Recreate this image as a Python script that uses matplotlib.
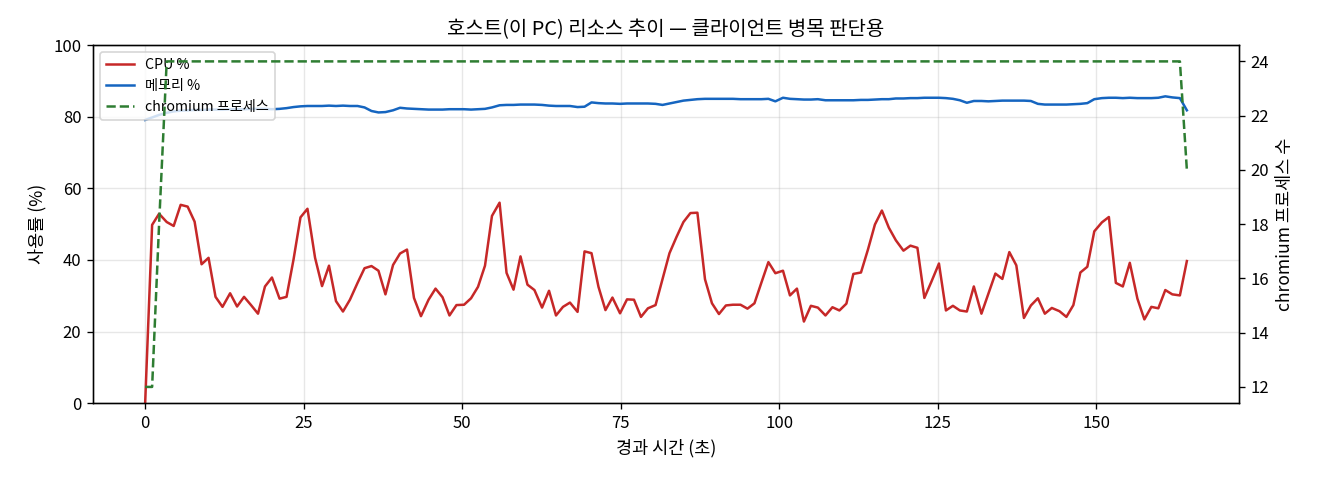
import matplotlib
matplotlib.use('Agg')
from matplotlib import pyplot as plt

plt.rcParams['font.family'] = ['Noto Sans CJK KR', 'DejaVu Sans']

# elapsed seconds of each sample
t = [0.0, 1.1, 2.2, 3.4, 4.5, 5.6, 6.7, 7.8, 8.9, 10.0, 11.1, 12.2, 13.4, 14.5, 15.6,
     16.7, 17.8, 18.9, 20.0, 21.2, 22.3, 23.4, 24.5, 25.6, 26.8, 27.9, 29.0, 30.1, 31.2,
     32.3, 33.5, 34.6, 35.7, 36.8, 37.9, 39.1, 40.2, 41.3,
     42.4, 43.5, 44.7, 45.8, 46.9, 48.0, 49.1, 50.3, 51.4, 52.5, 53.6, 54.7, 55.9, 57.0,
     58.1, 59.2, 60.3, 61.4, 62.6, 63.7, 64.8, 65.9, 67.0, 68.2, 69.3, 70.4, 71.5, 72.6,
     73.7, 74.9, 76.0, 77.1, 78.2, 79.3, 80.5, 81.6, 82.7,
     83.8, 84.9, 86.0, 87.1, 88.3, 89.4, 90.5, 91.6, 92.7, 93.9, 95.0, 96.1, 97.2, 98.3,
     99.4, 100.6, 101.7, 102.8, 103.9, 105.0, 106.1, 107.3, 108.4, 109.5, 110.6, 111.7,
     112.9, 114.0, 115.1, 116.2, 117.3, 118.4, 119.6, 120.7, 121.8, 122.9, 124.0, 125.2,
     126.3, 127.4, 128.5, 129.6, 130.7, 131.9, 133.0, 134.1, 135.2, 136.3, 137.4, 138.6,
     139.7, 140.8, 141.9, 143.0, 144.2, 145.3, 146.4, 147.5, 148.6, 149.7, 150.9, 152.0,
     153.1, 154.2, 155.3, 156.5, 157.6, 158.7, 159.8, 160.9, 162.0, 163.2, 164.3]

cpu = [0.0, 49.8, 52.9, 50.6, 49.5, 55.4, 54.9, 50.7, 38.8, 40.6, 29.7, 26.9, 30.7, 27.0,
       29.7, 27.4, 25.0, 32.6, 35.1, 29.2, 29.7, 40.1, 51.9, 54.3, 40.6, 32.7, 38.4, 28.5,
       25.6, 28.9, 33.6, 37.7, 38.3, 37.0, 30.4, 38.6, 41.8, 42.9,
       29.4, 24.3, 28.9, 32.0, 29.6, 24.5, 27.4, 27.5, 29.3, 32.5, 38.4, 52.3, 56.0, 36.4,
       31.7, 41.0, 33.1, 31.6, 26.7, 31.4, 24.5, 26.9, 28.1, 25.5, 42.4, 41.9, 32.5, 26.0,
       29.5, 25.1, 29.0, 28.9, 24.1, 26.5, 27.4, 34.7, 41.9,
       46.4, 50.6, 53.1, 53.2, 34.6, 27.9, 24.9, 27.3, 27.5, 27.5, 26.4, 27.9, 33.7, 39.4,
       36.3, 37.0, 30.1, 32.0, 22.8, 27.2, 26.7, 24.5, 26.8, 25.9, 27.8, 36.1, 36.5, 42.9,
       49.9, 53.8, 49.0, 45.5, 42.6, 44.0, 43.4, 29.4, 33.9, 39.0,
       25.9, 27.2, 25.9, 25.6, 32.6, 25.0, 30.6, 36.2, 34.7, 42.2, 38.5, 23.8, 27.3, 29.3,
       25.0, 26.6, 25.7, 24.1, 27.4, 36.5, 38.1, 48.0, 50.5, 52.0, 33.6, 32.6, 39.2, 29.2,
       23.4, 26.9, 26.5, 31.6, 30.4, 30.1, 39.7]

mem = [79.1, 79.8, 80.5, 81.1, 81.5, 81.7, 81.8, 81.9, 81.9, 82.0, 82.0, 82.0, 82.1, 82.1,
       82.1, 82.2, 82.2, 82.2, 82.1, 82.2, 82.4, 82.7, 82.9, 83.0, 83.0, 83.0, 83.1, 83.0,
       83.1, 83.0, 83.0, 82.6, 81.6, 81.2, 81.3, 81.8, 82.5, 82.3,
       82.2, 82.1, 82.0, 82.0, 82.0, 82.1, 82.1, 82.1, 82.0, 82.1, 82.2, 82.6, 83.2, 83.3,
       83.3, 83.4, 83.4, 83.4, 83.3, 83.1, 83.0, 83.0, 83.0, 82.7, 82.8, 84.0, 83.8, 83.7,
       83.7, 83.6, 83.7, 83.7, 83.7, 83.7, 83.6, 83.3, 83.7,
       84.1, 84.5, 84.7, 84.9, 85.0, 85.0, 85.0, 85.0, 85.0, 84.9, 84.9, 84.9, 84.9, 85.0,
       84.3, 85.3, 85.0, 84.9, 84.8, 84.8, 84.9, 84.6, 84.6, 84.6, 84.6, 84.6, 84.7, 84.7,
       84.8, 84.9, 84.9, 85.1, 85.1, 85.2, 85.2, 85.3, 85.3, 85.3,
       85.2, 85.0, 84.6, 83.9, 84.4, 84.4, 84.3, 84.4, 84.5, 84.5, 84.5, 84.5, 84.4, 83.6,
       83.4, 83.4, 83.4, 83.4, 83.5, 83.6, 83.8, 84.9, 85.2, 85.3, 85.3, 85.2, 85.3, 85.2,
       85.2, 85.2, 85.3, 85.7, 85.4, 85.2, 81.8]

procs = [12, 12, 18] + [24] * 144 + [20]

assert len(t) == len(cpu) == len(mem) == len(procs)

fig, ax1 = plt.subplots(figsize=(11, 4), dpi=120)
ax2 = ax1.twinx()

l1, = ax1.plot(t, cpu, color='#c62828', linewidth=1.5, label='CPU %')
l2, = ax1.plot(t, mem, color='#1565c0', linewidth=1.5, label='메모리 %')
l3, = ax2.plot(t, procs, color='#2e7d32', linewidth=1.5, linestyle='--', label='chromium 프로세스')

ax1.set_ylim(0, 100)
ax1.set_xlabel('경과 시간 (초)', fontsize=10.5)
ax1.set_ylabel('사용률 (%)', fontsize=10.5)
ax2.set_ylabel('chromium 프로세스 수', fontsize=10.5)
ax1.grid(True, alpha=0.3)
ax1.set_title('호스트(이 PC) 리소스 추이 — 클라이언트 병목 판단용', fontsize=12)

ax1.legend([l1, l2, l3], [l1.get_label(), l2.get_label(), l3.get_label()],
           loc='upper left', fontsize=8.5)

plt.subplots_adjust(left=0.0705, right=0.9386, top=0.906, bottom=0.160)
plt.savefig('out.png')
